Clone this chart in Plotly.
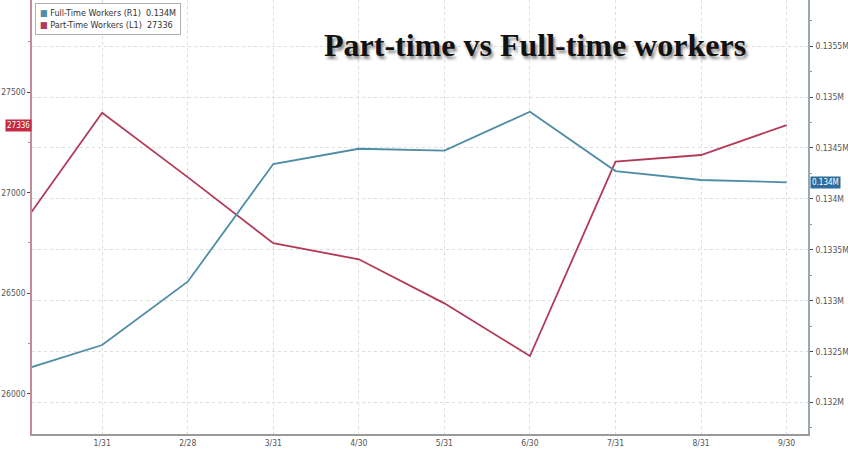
import plotly.graph_objects as go

months = ["12/31", "1/31", "2/28", "3/31", "4/30", "5/31", "6/30", "7/31", "8/31", "9/30"]
part_time = [26800, 27397, 27077, 26748, 26668, 26449, 26187, 27154, 27187, 27336]
full_time = [132300, 132564, 133186, 134342, 134492, 134473, 134856, 134273, 134185, 134162]

left_ticks = [26000, 26500, 27000, 27500]
right_ticks = [132000, 132500, 133000, 133500, 134000, 134500, 135000, 135500]
right_labels = ["0.132M", "0.1325M", "0.133M", "0.1335M", "0.134M", "0.1345M", "0.135M", "0.1355M"]

RED = "#b23a57"
BLUE = "#4f8ca6"
TICKFONT = dict(family="DejaVu Sans Condensed, Liberation Sans Narrow, sans-serif", size=8.5, color="#555555")

fig = go.Figure()
fig.add_trace(go.Scatter(x=months, y=full_time, mode="lines", name="Full-Time Workers (R1)",
                         line=dict(color=BLUE, width=1.8), yaxis="y2"))
fig.add_trace(go.Scatter(x=months, y=part_time, mode="lines", name="Part-Time Workers (L1)",
                         line=dict(color=RED, width=1.8), yaxis="y"))

fig.update_layout(
    width=848, height=459,
    margin=dict(l=32, r=40, t=0, b=25, autoexpand=False),
    paper_bgcolor="white", plot_bgcolor="white",
    showlegend=False,
    xaxis=dict(type="category", range=[0.18, 9.25], automargin=False,
               tickvals=months[1:], ticktext=months[1:],
               showgrid=True, gridcolor="#dddddd", griddash="dot", gridwidth=1,
               showline=True, linecolor="#9a9a9a", linewidth=1.5,
               ticks="", tickfont=TICKFONT, zeroline=False),
    yaxis=dict(range=[25799, 27958], tickvals=left_ticks, automargin=False,
               ticktext=[str(v) for v in left_ticks],
               showgrid=False, zeroline=False,
               showline=True, linecolor="#c98a98", linewidth=1.5,
               ticks="outside", ticklen=3, tickcolor="#444444", tickfont=TICKFONT,
               minor=dict(dtick=250, tick0=26000, ticks="outside", ticklen=2, tickcolor="#999999")),
    yaxis2=dict(range=[131690, 135953], overlaying="y", side="right", automargin=False,
                tickvals=right_ticks, ticktext=right_labels,
                showgrid=True, gridcolor="#dddddd", griddash="dot", gridwidth=1,
                zeroline=False, showline=True, linecolor="#9aa7b0", linewidth=1.5,
                ticks="outside", ticklen=3, tickcolor="#444444", tickfont=TICKFONT,
                ticklabelstandoff=1,
                minor=dict(dtick=250, tick0=132000, ticks="outside", ticklen=2, tickcolor="#999999")),
)

# Title
fig.add_annotation(xref="paper", yref="paper", x=0.648, y=0.897, xanchor="center", yanchor="middle",
                   text="<b>Part-time vs Full-time workers</b>", showarrow=False,
                   font=dict(family="Liberation Serif, serif", size=32, color="#111111",
                             shadow="2px 3px 3px #888888"))

# Legend box
legend_text = (f"<span style='color:{BLUE}'>■</span> Full-Time Workers (R1)  {full_time[-1]/1e6:.3f}M<br>"
               f"<span style='color:{RED}'>■</span> Part-Time Workers (L1)  {part_time[-1]}")
fig.add_annotation(xref="paper", yref="paper", x=0.004, y=0.993, xanchor="left", yanchor="top",
                   text=legend_text, showarrow=False, align="left",
                   font=dict(family="DejaVu Sans Condensed, sans-serif", size=9, color="#333333"),
                   bgcolor="white", bordercolor="#b0b0b0", borderwidth=1, borderpad=4)

# Last value labels
fig.add_annotation(xref="paper", yref="y", x=0, y=part_time[-1], xanchor="right", yanchor="middle",
                   text=str(part_time[-1]), showarrow=False,
                   font=dict(family="DejaVu Sans Condensed, sans-serif", size=8, color="white"),
                   bgcolor="#c42a42", borderpad=1)
fig.add_annotation(xref="paper", yref="y2", x=1.003, y=full_time[-1], xanchor="left", yanchor="middle",
                   text=f"{full_time[-1]/1e6:.3f}M", showarrow=False,
                   font=dict(family="DejaVu Sans Condensed, sans-serif", size=8, color="white"),
                   bgcolor="#2f6e9a", borderpad=1)

fig.write_html("out.html", config={"displayModeBar": False},
               post_script="document.body.style.margin='0';document.body.style.overflow='hidden';")
